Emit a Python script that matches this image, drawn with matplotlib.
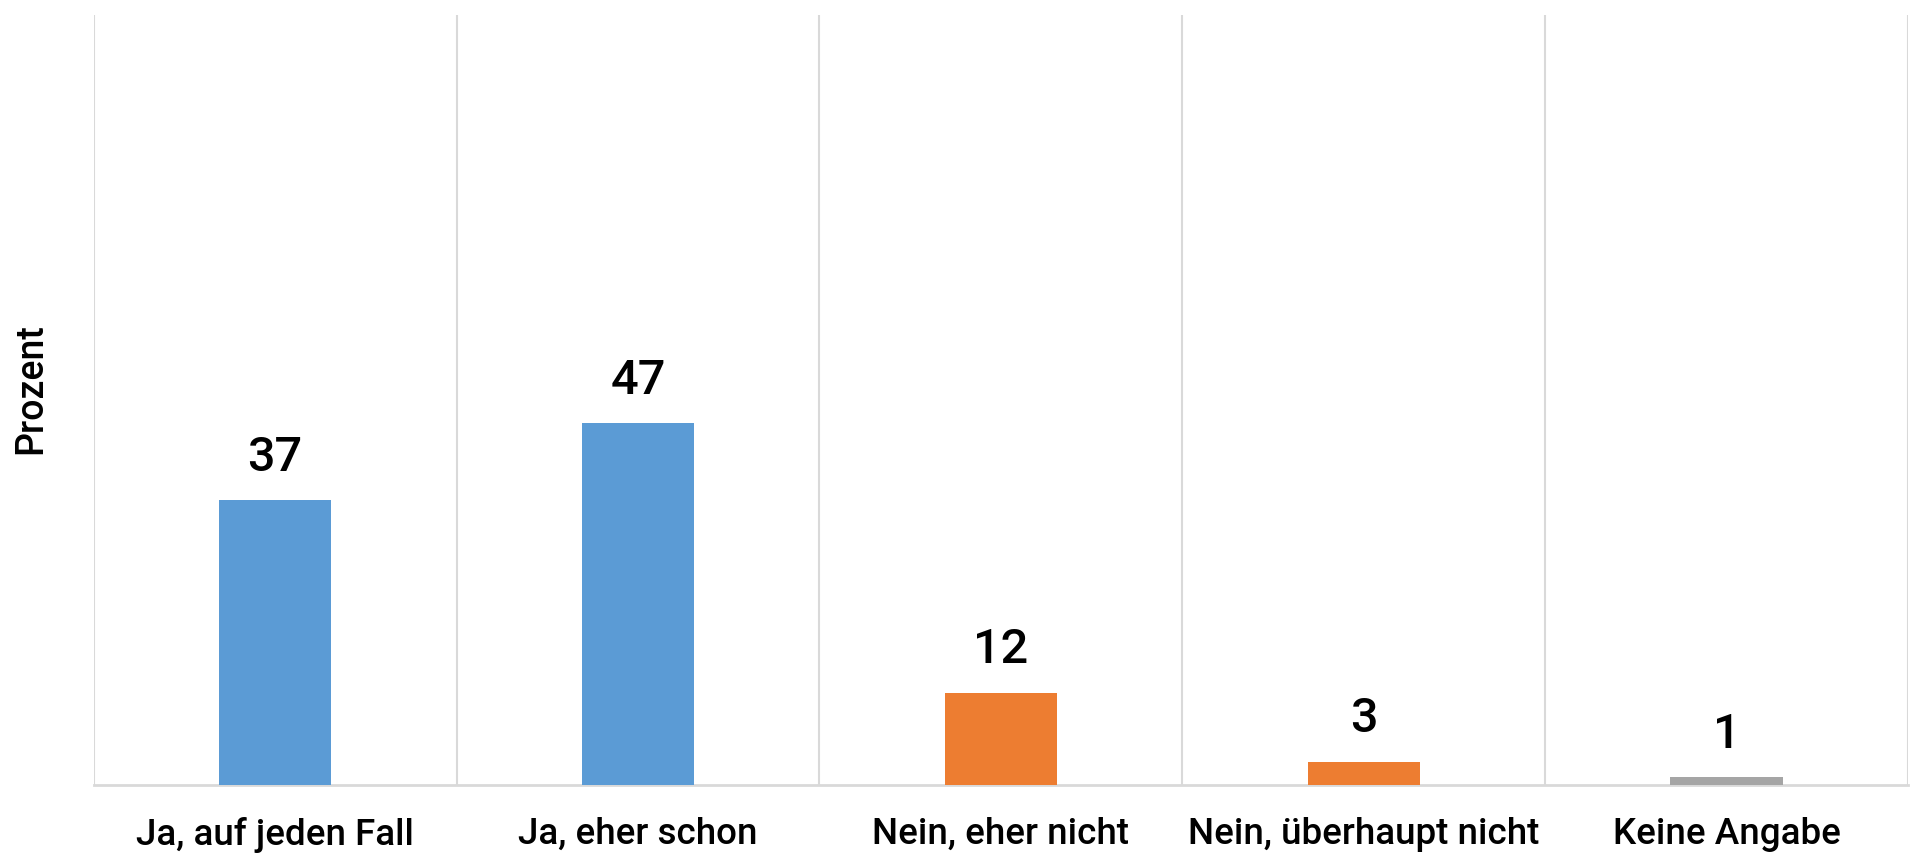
import matplotlib.pyplot as plt
import numpy as np

categories = ["Ja, auf jeden Fall", "Ja, eher schon", "Nein, eher nicht",
              "Nein, überhaupt nicht", "Keine Angabe"]
values = [37, 47, 12, 3, 1]
colors = ["#5B9BD5", "#5B9BD5", "#ED7D31", "#ED7D31", "#A5A5A5"]

plt.rcParams['font.family'] = ['Roboto', 'DejaVu Sans']

fig = plt.figure(figsize=(19.12, 8.57), dpi=100)
ax = fig.add_axes([0.049, 0.084, 0.949, 0.898])

x = np.arange(len(categories))
bars = ax.bar(x, values, width=0.31, color=colors, zorder=3)

for b, v in zip(bars, values):
    ax.annotate(str(v), (b.get_x() + b.get_width() / 2, v),
                xytext=(0, 14), textcoords="offset points",
                ha="center", va="bottom", fontsize=35, fontweight="medium")

ax.set_xlim(-0.5, len(categories) - 0.5)
ax.set_ylim(0, 100)
ax.set_xticks(x)
ax.set_xticklabels(categories, fontsize=26.5, fontweight="medium")
ax.tick_params(axis="x", length=0, pad=23)
ax.set_yticks([])

# vertical separators between categories
ax.set_xticks(np.arange(-0.5, len(categories)), minor=True)
ax.grid(True, which="minor", axis="x", color="#D9D9D9", linewidth=1.5, zorder=0)
ax.tick_params(axis="x", which="minor", length=0)

for side in ["top", "left", "right"]:
    ax.spines[side].set_visible(False)
ax.spines["bottom"].set_color("#D9D9D9")
ax.spines["bottom"].set_linewidth(2)

ax.set_ylabel("Prozent", fontsize=27, fontweight="medium", labelpad=32)
ax.yaxis.label.set_y(0.515)

plt.savefig("out.png")
plt.close()
